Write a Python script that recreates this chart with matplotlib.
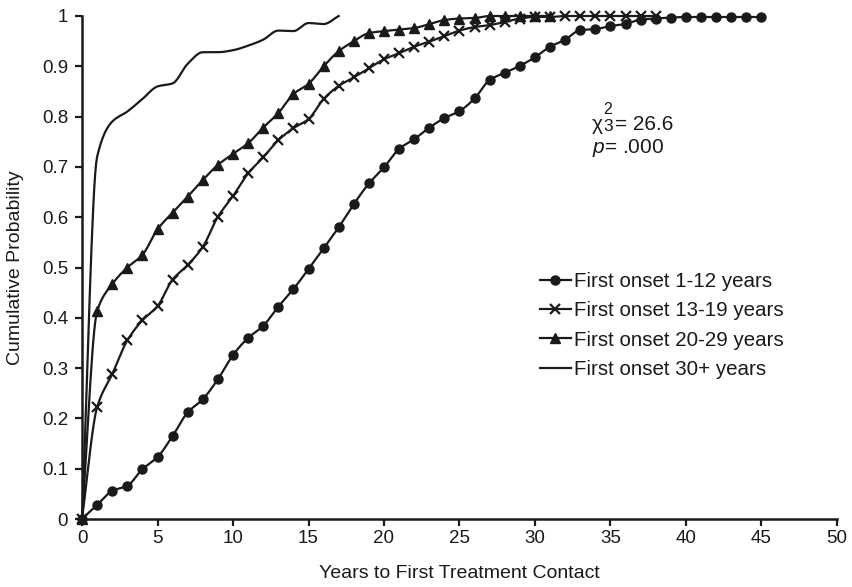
import numpy as np
import matplotlib
matplotlib.use("Agg")
import matplotlib.pyplot as plt
from matplotlib.lines import Line2D

plt.rcParams['font.family'] = ['Liberation Sans', 'DejaVu Sans']
plt.rcParams['mathtext.fontset'] = 'custom'
plt.rcParams['mathtext.rm'] = 'Liberation Sans'
plt.rcParams['mathtext.it'] = 'Liberation Sans:italic'

# ---- data ----
years_a = list(range(0, 46))
onset_1_12 = [0, 0.028, 0.056, 0.066, 0.099, 0.123, 0.165, 0.212, 0.238, 0.278,
              0.326, 0.360, 0.384, 0.422, 0.457, 0.497, 0.538, 0.580, 0.626, 0.667,
              0.699, 0.736, 0.755, 0.778, 0.797, 0.811, 0.836, 0.873, 0.887, 0.901,
              0.918, 0.939, 0.953, 0.972, 0.974, 0.980, 0.984, 0.993, 0.995, 0.997,
              0.998, 0.998, 0.998, 0.998, 0.998, 0.998]

years_b = list(range(0, 39))
onset_13_19 = [0, 0.222, 0.288, 0.355, 0.395, 0.423, 0.476, 0.505, 0.541, 0.601,
               0.642, 0.687, 0.719, 0.753, 0.777, 0.795, 0.835, 0.861, 0.878, 0.896,
               0.914, 0.926, 0.939, 0.949, 0.960, 0.971, 0.978, 0.982, 0.988, 0.995,
               0.998, 0.998, 1.0, 1.0, 1.0, 1.0, 1.0, 1.0, 1.0]

years_c = list(range(0, 32))
onset_20_29 = [0, 0.413, 0.467, 0.500, 0.525, 0.576, 0.609, 0.641, 0.674, 0.704,
               0.726, 0.747, 0.778, 0.807, 0.845, 0.865, 0.900, 0.930, 0.950, 0.966,
               0.970, 0.973, 0.976, 0.984, 0.992, 0.995, 0.996, 1.0, 1.0, 1.0, 1.0, 1.0]

years_d = list(range(0, 18))
onset_30_plus = [0, 0.72, 0.79, 0.81, 0.835, 0.86, 0.866, 0.905, 0.928, 0.928,
                 0.932, 0.941, 0.953, 0.971, 0.970, 0.986, 0.984, 1.0]

labels = ["First onset 1-12 years", "First onset 13-19 years",
          "First onset 20-29 years", "First onset 30+ years"]
x_ticks = list(range(0, 51, 5))
y_ticks = [0, 0.1, 0.2, 0.3, 0.4, 0.5, 0.6, 0.7, 0.8, 0.9, 1.0]
y_tick_labels = ["0", "0.1", "0.2", "0.3", "0.4", "0.5", "0.6", "0.7", "0.8", "0.9", "1"]


def smooth(x, y, n=16):
    """Monotone cubic (Fritsch-Carlson) smoothed path through the points."""
    x = np.asarray(x, float)
    y = np.asarray(y, float)
    h = np.diff(x)
    d = np.diff(y) / h
    m = np.zeros_like(y)
    m[0], m[-1] = d[0], d[-1]
    for i in range(1, len(y) - 1):
        if d[i - 1] * d[i] <= 0:
            m[i] = 0.0
        else:
            w1 = 2 * h[i] + h[i - 1]
            w2 = h[i] + 2 * h[i - 1]
            m[i] = (w1 + w2) / (w1 / d[i - 1] + w2 / d[i])
    t = np.linspace(0, 1, n, endpoint=False)
    xs, ys = [], []
    for i in range(len(x) - 1):
        h00 = 2 * t ** 3 - 3 * t ** 2 + 1
        h10 = t ** 3 - 2 * t ** 2 + t
        h01 = -2 * t ** 3 + 3 * t ** 2
        h11 = t ** 3 - t ** 2
        xs.append(x[i] + t * h[i])
        ys.append(h00 * y[i] + h10 * h[i] * m[i] + h01 * y[i + 1] + h11 * h[i] * m[i + 1])
    xs.append([x[-1]])
    ys.append([y[-1]])
    return np.concatenate(xs), np.concatenate(ys)


W, H = 852, 587
fig = plt.figure(figsize=(W / 100, H / 100), dpi=100)
ax = fig.add_axes([82 / W, 1 - 519 / H, (837 - 82) / W, (519 - 16) / H])

col = '#1a1a1a'
lw = 1.6
series = [
    (years_a, onset_1_12, 'o', dict(markersize=6.5)),
    (years_b, onset_13_19, 'x', dict(markersize=7, markeredgewidth=1.6)),
    (years_c, onset_20_29, '^', dict(markersize=7.5)),
    (years_d, onset_30_plus, None, {}),
]
handles = []
for (xs, ys, mk, mkw), lab in zip(series, labels):
    sx, sy = smooth(xs, ys)
    ax.plot(sx, sy, color=col, lw=lw, clip_on=False, zorder=3)
    if mk is not None:
        ax.plot(xs, ys, linestyle='none', marker=mk, color=col, clip_on=False,
                zorder=4, **mkw)
        handles.append(Line2D([], [], color=col, lw=lw, marker=mk, **mkw))
    else:
        handles.append(Line2D([], [], color=col, lw=lw))

ax.set_xlim(0, 50)
ax.set_ylim(0, 1)
ax.set_xticks(x_ticks)
ax.set_yticks(y_ticks)
ax.set_yticklabels(y_tick_labels)
for s in ['top', 'right']:
    ax.spines[s].set_visible(False)
for s in ['left', 'bottom']:
    ax.spines[s].set_linewidth(1.8)
    ax.spines[s].set_color(col)
ax.tick_params(axis='both', direction='out', length=5, width=1.6, color=col,
               labelsize=13.5, labelcolor=col)
ax.tick_params(axis='x', pad=3)
ax.tick_params(axis='y', pad=5)

ax.set_xlabel("Years to First Treatment Contact", fontsize=14, color=col, labelpad=13)
ax.set_ylabel("Cumulative Probability", fontsize=14, color=col, labelpad=13)

# statistic annotation (chi-square with stacked super/subscript)
fig.text(592 / W, 1 - 130 / H, "\u03c7", fontsize=15, color=col)
fig.text(603 / W, 1 - 114 / H, "2", fontsize=11.5, color=col)
fig.text(603 / W, 1 - 131 / H, "3", fontsize=12.5, color=col)
fig.text(615 / W, 1 - 130 / H, "= 26.6", fontsize=15, color=col)
fig.text(592 / W, 1 - 153 / H, r'$p$= .000', fontsize=15, color=col)

leg = ax.legend(handles, labels, loc='upper left',
                bbox_to_anchor=(540 / W, 1 - 272 / H),
                bbox_transform=fig.transFigure, frameon=False, fontsize=14.8,
                handlelength=1.5, handletextpad=0.15, labelspacing=0.5,
                borderpad=0, borderaxespad=0, numpoints=1)
for t in leg.get_texts():
    t.set_color(col)

fig.savefig("out.png", dpi=100)
